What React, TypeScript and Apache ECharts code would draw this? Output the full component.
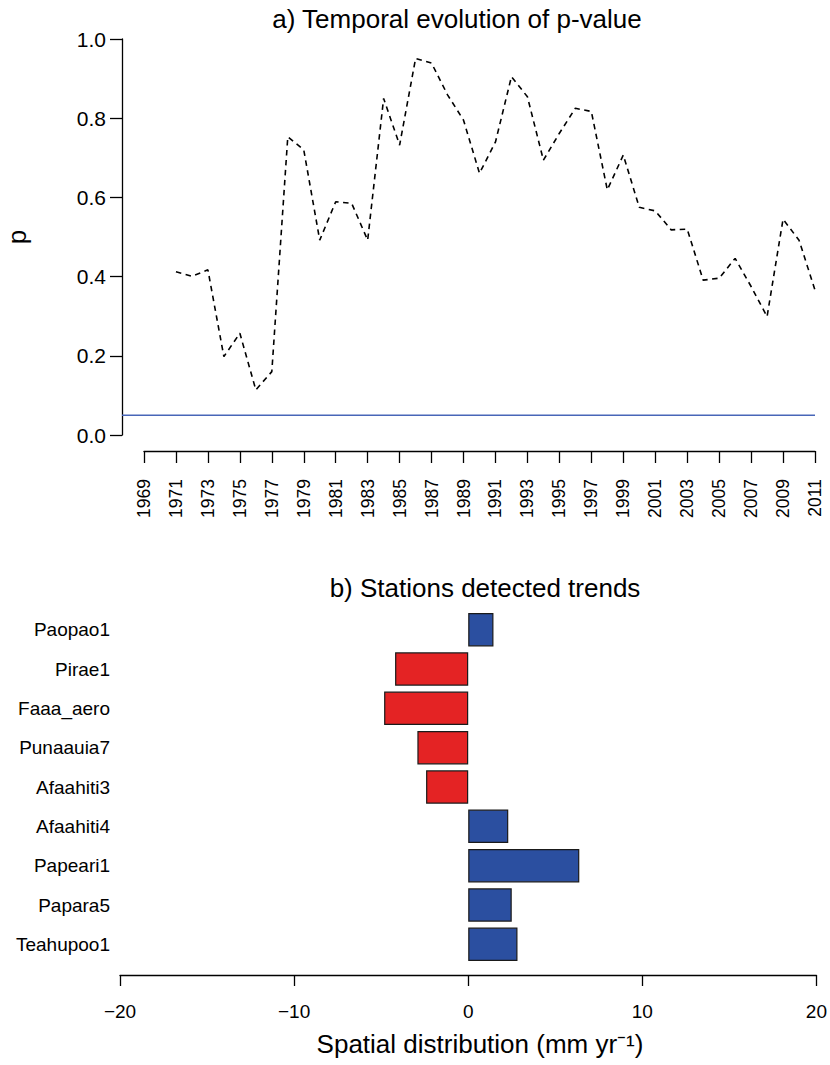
import React, { useEffect, useRef } from "react";
import * as echarts from "echarts";

// ---- Panel a) data ----
const FIRST_YEAR = 1969;
const LAST_YEAR = 2011;
const YEARS: string[] = Array.from({ length: LAST_YEAR - FIRST_YEAR + 1 }, (_, i) => String(FIRST_YEAR + i));
// p-values, 1969 .. 2011 (no value for 1969, 1970)
const P_VALUES: (number | null)[] = [
  null, null,
  0.412, 0.401, 0.417, 0.198, 0.257, 0.114, 0.160, 0.753, 0.720, 0.492,
  0.589, 0.585, 0.492, 0.850, 0.732, 0.951, 0.939, 0.859, 0.795, 0.661,
  0.740, 0.905, 0.854, 0.694, 0.762, 0.825, 0.817, 0.619, 0.707, 0.575,
  0.566, 0.518, 0.520, 0.391, 0.396, 0.446, 0.375, 0.299, 0.545, 0.492,
  0.366,
];
const P_THRESHOLD = 0.05;
const P_TICKS = { min: 0, max: 1, interval: 0.2 };

// ---- Panel b) data ----
const STATIONS = [
  "Paopao1", "Pirae1", "Faaa_aero", "Punaauia7", "Afaahiti3",
  "Afaahiti4", "Papeari1", "Papara5", "Teahupoo1",
];
const TRENDS = [1.45, -4.2, -4.83, -2.92, -2.42, 2.3, 6.38, 2.5, 2.83];
const TREND_TICKS = { min: -20, max: 20, interval: 10 };

const FONT = "'Liberation Sans', Arial, Helvetica, sans-serif";
const RED = "#e42324";
const BLUE = "#2b4fa0";

export default function App() {
  const ref = useRef<HTMLDivElement>(null);

  useEffect(() => {
    if (!ref.current) return;
    const chart = echarts.init(ref.current, null, { renderer: "svg" });

    const option: any = {
      animation: false,
      backgroundColor: "#ffffff",
      textStyle: { fontFamily: FONT, color: "#000" },
      grid: [
        { left: 144, right: 15, top: 39, bottom: 630 },
        { left: 122, right: 15, top: 39, bottom: 630 },
        { left: 120, right: 12, top: 610, bottom: 101 },
      ],
      xAxis: [
        {
          gridIndex: 0,
          type: "category",
          data: YEARS,
          boundaryGap: false,
          offset: 16,
          axisLine: { show: true, onZero: false, lineStyle: { color: "#000", width: 1.3 } },
          axisTick: { show: true, interval: 1, length: 12, lineStyle: { color: "#000", width: 1.3 } },
          axisLabel: {
            interval: 1,
            rotate: 90,
            margin: 28,
            fontSize: 17.5,
            fontFamily: FONT,
            color: "#000",
          },
          splitLine: { show: false },
        },
        {
          gridIndex: 1,
          type: "category",
          data: ["start", "end"],
          boundaryGap: false,
          show: false,
        },
        {
          gridIndex: 2,
          type: "value",
          min: TREND_TICKS.min,
          max: TREND_TICKS.max,
          interval: TREND_TICKS.interval,
          offset: 11,
          axisLine: { show: true, onZero: false, lineStyle: { color: "#000", width: 1.3 } },
          axisTick: { show: true, length: 11, lineStyle: { color: "#000", width: 1.3 } },
          axisLabel: {
            margin: 27,
            fontSize: 19,
            fontFamily: FONT,
            color: "#000",
            formatter: (v: number) => String(v).replace("-", "\u2212"),
          },
          splitLine: { show: false },
        },
      ],
      yAxis: [
        {
          gridIndex: 0,
          type: "value",
          min: P_TICKS.min,
          max: P_TICKS.max,
          interval: P_TICKS.interval,
          offset: 22,
          axisLine: { show: true, onZero: false, lineStyle: { color: "#000", width: 1.3 } },
          axisTick: { show: true, length: 12, lineStyle: { color: "#000", width: 1.3 } },
          axisLabel: {
            margin: 16,
            fontSize: 21,
            fontFamily: FONT,
            color: "#000",
            formatter: (v: number) => v.toFixed(1),
          },
          splitLine: { show: false },
        },
        {
          gridIndex: 1,
          type: "value",
          min: P_TICKS.min,
          max: P_TICKS.max,
          show: false,
        },
        {
          gridIndex: 2,
          type: "category",
          data: STATIONS,
          inverse: true,
          axisLine: { show: false },
          axisTick: { show: false },
          axisLabel: {
            margin: 10,
            fontSize: 19,
            fontFamily: FONT,
            color: "#000",
          },
          splitLine: { show: false },
        },
      ],
      series: [
        {
          type: "line",
          xAxisIndex: 0,
          yAxisIndex: 0,
          data: P_VALUES,
          showSymbol: false,
          symbol: "none",
          lineStyle: { color: "#000", width: 1.6, type: [5.5, 4.5] },
          connectNulls: false,
        },
        {
          type: "line",
          xAxisIndex: 1,
          yAxisIndex: 1,
          data: [P_THRESHOLD, P_THRESHOLD],
          showSymbol: false,
          symbol: "none",
          lineStyle: { color: "#4866b8", width: 1.5 },
        },
        {
          type: "bar",
          xAxisIndex: 2,
          yAxisIndex: 2,
          data: TRENDS,
          barCategoryGap: "15%",
          itemStyle: {
            color: (p: any) => (p.value < 0 ? RED : BLUE),
            borderColor: "#1a1a1a",
            borderWidth: 1.2,
          },
        },
      ],
      graphic: [
        {
          type: "text",
          x: 457,
          y: 19,
          style: {
            text: "a) Temporal evolution of p-value",
            fontSize: 26,
            fontFamily: FONT,
            fill: "#000",
            align: "center",
            verticalAlign: "middle",
          },
        },
        {
          type: "text",
          x: 17,
          y: 237,
          rotation: Math.PI / 2,
          style: {
            text: "p",
            fontSize: 26,
            fontFamily: FONT,
            fill: "#000",
            align: "center",
            verticalAlign: "middle",
          },
        },
        {
          type: "text",
          x: 485,
          y: 588,
          style: {
            text: "b) Stations detected trends",
            fontSize: 26,
            fontFamily: FONT,
            fill: "#000",
            align: "center",
            verticalAlign: "middle",
          },
        },
        {
          type: "text",
          x: 480,
          y: 1044,
          style: {
            text: "Spatial distribution (mm yr\u207B\u00B9)",
            fontSize: 26,
            fontFamily: FONT,
            fill: "#000",
            align: "center",
            verticalAlign: "middle",
          },
        },
      ],
    };

    chart.setOption(option);
    return () => chart.dispose();
  }, []);

  return (
    <div
      ref={ref}
      style={{ position: "absolute", left: 0, top: 0, width: 830, height: 1065 }}
    />
  );
}
